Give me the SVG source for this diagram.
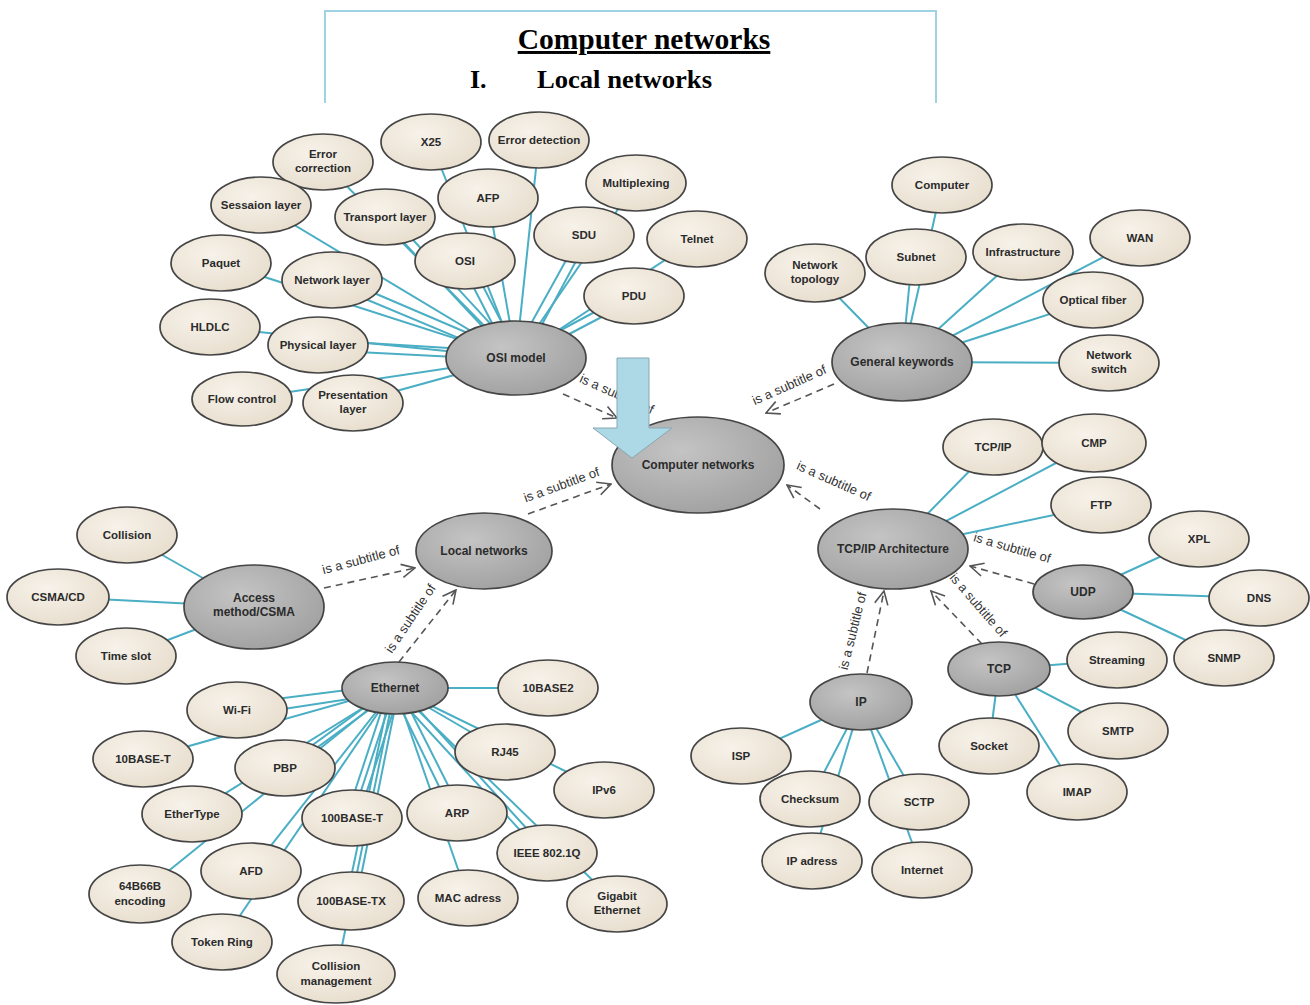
<svg xmlns="http://www.w3.org/2000/svg" width="1310" height="1005" viewBox="0 0 1310 1005">
<style>
.leaf ellipse{fill:url(#gl);stroke:#454545;stroke-width:1.7}
.hub ellipse{fill:url(#gh);stroke:#454545;stroke-width:1.7}
text.n{font-family:"Liberation Sans",Arial,sans-serif;font-weight:bold;font-size:11.5px;fill:#2b2b2b;text-anchor:middle}
text.h{font-family:"Liberation Sans",Arial,sans-serif;font-weight:bold;font-size:12px;fill:#2b2b2b;text-anchor:middle}
.ln line{stroke:#4aaec4;stroke-width:2}
.dash line{stroke:#555;stroke-width:1.6;stroke-dasharray:7,5;marker-end:url(#oa)}
text.lb{font-family:"Liberation Sans",Arial,sans-serif;font-size:13px;fill:#333;text-anchor:middle}
.title{font-family:"Liberation Serif","Times New Roman",serif;font-weight:bold;fill:#000}
</style>
<defs>
<radialGradient id="gl" cx="0.4" cy="0.35" r="0.75"><stop offset="0" stop-color="#f7f2ea"/><stop offset="1" stop-color="#e6dccb"/></radialGradient>
<radialGradient id="gh" cx="0.4" cy="0.35" r="0.75"><stop offset="0" stop-color="#c4c4c4"/><stop offset="1" stop-color="#9e9e9e"/></radialGradient>
<marker id="oa" viewBox="0 0 12 12" refX="11" refY="6" markerWidth="16" markerHeight="16" markerUnits="userSpaceOnUse" orient="auto"><path d="M1,1 L11,6 L1,11" fill="none" stroke="#555" stroke-width="1.2"/></marker>
</defs>
<rect width="1310" height="1005" fill="#fff"/>
<!-- title frame -->
<g id="title">
<path d="M325,103 V11 H936 V103" fill="none" stroke="#9fd3e3" stroke-width="2"/>
<text class="title" x="644" y="49" font-size="29.5" text-anchor="middle" text-decoration="underline">Computer networks</text>
<text class="title" x="470" y="88" font-size="26">I.</text>
<text class="title" x="537" y="88" font-size="26" textLength="175" lengthAdjust="spacingAndGlyphs">Local networks</text>
</g>
<!-- connectors -->
<g id="connectors">
<g class="ln">
<!-- OSI model -->
<line x1="516" y1="358" x2="323" y2="162"/>
<line x1="516" y1="358" x2="431" y2="142"/>
<line x1="516" y1="358" x2="539" y2="140"/>
<line x1="516" y1="358" x2="636" y2="183"/>
<line x1="516" y1="358" x2="261" y2="205"/>
<line x1="510" y1="356" x2="380" y2="217"/>
<line x1="520" y1="356" x2="392" y2="217"/>
<line x1="516" y1="358" x2="488" y2="198"/>
<line x1="512" y1="358" x2="580" y2="235"/>
<line x1="524" y1="358" x2="590" y2="235"/>
<line x1="516" y1="358" x2="697" y2="239"/>
<line x1="516" y1="358" x2="221" y2="263"/>
<line x1="512" y1="352" x2="332" y2="275"/>
<line x1="516" y1="362" x2="332" y2="285"/>
<line x1="510" y1="358" x2="460" y2="261"/>
<line x1="520" y1="358" x2="470" y2="261"/>
<line x1="516" y1="354" x2="634" y2="291"/>
<line x1="516" y1="362" x2="634" y2="300"/>
<line x1="516" y1="358" x2="210" y2="327"/>
<line x1="516" y1="352" x2="318" y2="340"/>
<line x1="516" y1="360" x2="318" y2="350"/>
<line x1="516" y1="358" x2="242" y2="399"/>
<line x1="516" y1="358" x2="353" y2="403"/>
<!-- General keywords -->
<line x1="902" y1="362" x2="815" y2="273"/>
<line x1="902" y1="362" x2="942" y2="185"/>
<line x1="902" y1="362" x2="912" y2="257"/>
<line x1="902" y1="362" x2="1023" y2="252"/>
<line x1="902" y1="362" x2="1140" y2="238"/>
<line x1="902" y1="362" x2="1093" y2="300"/>
<line x1="902" y1="362" x2="1109" y2="363"/>
<!-- TCP/IP Architecture -->
<line x1="893" y1="549" x2="993" y2="447"/>
<line x1="893" y1="549" x2="1094" y2="443"/>
<line x1="893" y1="549" x2="1101" y2="505"/>
<!-- UDP -->
<line x1="1083" y1="592" x2="1199" y2="539"/>
<line x1="1083" y1="592" x2="1260" y2="598"/>
<line x1="1083" y1="592" x2="1224" y2="658"/>
<!-- TCP -->
<line x1="999" y1="669" x2="1117" y2="660"/>
<line x1="999" y1="669" x2="1118" y2="731"/>
<line x1="999" y1="669" x2="1077" y2="792"/>
<line x1="999" y1="669" x2="989" y2="746"/>
<!-- IP -->
<line x1="861" y1="702" x2="741" y2="756"/>
<line x1="861" y1="702" x2="810" y2="799"/>
<line x1="861" y1="702" x2="812" y2="861"/>
<line x1="861" y1="702" x2="919" y2="802"/>
<line x1="861" y1="702" x2="922" y2="870"/>
<!-- Access method -->
<line x1="254" y1="607" x2="127" y2="535"/>
<line x1="254" y1="607" x2="58" y2="597"/>
<line x1="254" y1="607" x2="126" y2="656"/>
<!-- Ethernet -->
<line x1="395" y1="688" x2="548" y2="688"/>
<line x1="395" y1="684" x2="237" y2="704"/>
<line x1="395" y1="692" x2="237" y2="716"/>
<line x1="395" y1="688" x2="143" y2="759"/>
<line x1="391" y1="688" x2="281" y2="768"/>
<line x1="399" y1="688" x2="289" y2="768"/>
<line x1="395" y1="688" x2="192" y2="814"/>
<line x1="395" y1="688" x2="140" y2="894"/>
<line x1="395" y1="688" x2="251" y2="871"/>
<line x1="395" y1="688" x2="222" y2="942"/>
<line x1="389" y1="688" x2="346" y2="818"/>
<line x1="395" y1="688" x2="352" y2="818"/>
<line x1="401" y1="688" x2="358" y2="818"/>
<line x1="391" y1="688" x2="346" y2="901"/>
<line x1="399" y1="688" x2="356" y2="901"/>
<line x1="395" y1="688" x2="336" y2="975"/>
<line x1="391" y1="688" x2="452" y2="813"/>
<line x1="399" y1="688" x2="462" y2="813"/>
<line x1="395" y1="688" x2="468" y2="898"/>
<line x1="395" y1="688" x2="505" y2="752"/>
<line x1="395" y1="688" x2="604" y2="790"/>
<line x1="391" y1="690" x2="541" y2="853"/>
<line x1="399" y1="688" x2="549" y2="853"/>
<line x1="395" y1="688" x2="617" y2="904"/>
</g>
<g class="dash">
<line x1="563" y1="394" x2="617" y2="418"/>
<line x1="834" y1="384" x2="766" y2="413"/>
<line x1="528" y1="514" x2="611" y2="484"/>
<line x1="820" y1="509" x2="787" y2="485"/>
<line x1="324" y1="588" x2="415" y2="568"/>
<line x1="399" y1="662" x2="456" y2="590"/>
<line x1="1034" y1="584" x2="970" y2="566"/>
<line x1="982" y1="644" x2="931" y2="591"/>
<line x1="867" y1="673" x2="884" y2="591"/>
</g>
<g id="labels">
<text class="lb" transform="translate(615,398) rotate(24)">is a subtitle of</text>
<text class="lb" transform="translate(791,389) rotate(-24)">is a subtitle of</text>
<text class="lb" transform="translate(563,489) rotate(-20)">is a subtitle of</text>
<text class="lb" transform="translate(832,485) rotate(24)">is a subtitle of</text>
<text class="lb" transform="translate(362,564) rotate(-15)">is a subtitle of</text>
<text class="lb" transform="translate(414,621) rotate(-56)">is a subtitle of</text>
<text class="lb" transform="translate(1011,552) rotate(16)">is a subtitle of</text>
<text class="lb" transform="translate(975,608) rotate(49)">is a subtitle of</text>
<text class="lb" transform="translate(857,632) rotate(-76)">is a subtitle of</text>
</g>
</g>
<!-- hubs -->
<g id="n-computer-networks" class="hub"><ellipse cx="698" cy="465" rx="86" ry="48"/><text class="h" x="698" y="469">Computer networks</text></g>
<g id="n-osi-model" class="hub"><ellipse cx="516" cy="358" rx="70" ry="37"/><text class="h" x="516" y="362">OSI model</text></g>
<g id="n-general-keywords" class="hub"><ellipse cx="902" cy="362" rx="70" ry="39"/><text class="h" x="902" y="366">General keywords</text></g>
<g id="n-local-networks" class="hub"><ellipse cx="484" cy="551" rx="68" ry="38"/><text class="h" x="484" y="555">Local networks</text></g>
<g id="n-access-method" class="hub"><ellipse cx="254" cy="607" rx="70" ry="42"/><text class="h" x="254" y="602">Access</text><text class="h" x="254" y="616">method/CSMA</text></g>
<g id="n-ethernet" class="hub"><ellipse cx="395" cy="688" rx="53" ry="26"/><text class="h" x="395" y="692">Ethernet</text></g>
<g id="n-tcpip-arch" class="hub"><ellipse cx="893" cy="549" rx="75" ry="40"/><text class="h" x="893" y="553">TCP/IP Architecture</text></g>
<g id="n-udp" class="hub"><ellipse cx="1083" cy="592" rx="50" ry="27"/><text class="h" x="1083" y="596">UDP</text></g>
<g id="n-tcp" class="hub"><ellipse cx="999" cy="669" rx="51" ry="27"/><text class="h" x="999" y="673">TCP</text></g>
<g id="n-ip" class="hub"><ellipse cx="861" cy="702" rx="51" ry="28"/><text class="h" x="861" y="706">IP</text></g>
<!-- OSI leaves -->
<g id="n-error-correction" class="leaf"><ellipse cx="323" cy="162" rx="50" ry="28"/><text class="n" x="323" y="158">Error</text><text class="n" x="323" y="172">correction</text></g>
<g id="n-x25" class="leaf"><ellipse cx="431" cy="142" rx="50" ry="28"/><text class="n" x="431" y="146">X25</text></g>
<g id="n-error-detection" class="leaf"><ellipse cx="539" cy="140" rx="50" ry="28"/><text class="n" x="539" y="144">Error detection</text></g>
<g id="n-multiplexing" class="leaf"><ellipse cx="636" cy="183" rx="50" ry="28"/><text class="n" x="636" y="187">Multiplexing</text></g>
<g id="n-sessaion" class="leaf"><ellipse cx="261" cy="205" rx="50" ry="28"/><text class="n" x="261" y="209">Sessaion layer</text></g>
<g id="n-transport" class="leaf"><ellipse cx="385" cy="217" rx="50" ry="28"/><text class="n" x="385" y="221">Transport layer</text></g>
<g id="n-afp" class="leaf"><ellipse cx="488" cy="198" rx="50" ry="29"/><text class="n" x="488" y="202">AFP</text></g>
<g id="n-sdu" class="leaf"><ellipse cx="584" cy="235" rx="50" ry="28"/><text class="n" x="584" y="239">SDU</text></g>
<g id="n-telnet" class="leaf"><ellipse cx="697" cy="239" rx="50" ry="28"/><text class="n" x="697" y="243">Telnet</text></g>
<g id="n-paquet" class="leaf"><ellipse cx="221" cy="263" rx="50" ry="28"/><text class="n" x="221" y="267">Paquet</text></g>
<g id="n-network-layer" class="leaf"><ellipse cx="332" cy="280" rx="50" ry="28"/><text class="n" x="332" y="284">Network layer</text></g>
<g id="n-osi" class="leaf"><ellipse cx="465" cy="261" rx="50" ry="28"/><text class="n" x="465" y="265">OSI</text></g>
<g id="n-pdu" class="leaf"><ellipse cx="634" cy="296" rx="50" ry="28"/><text class="n" x="634" y="300">PDU</text></g>
<g id="n-hldlc" class="leaf"><ellipse cx="210" cy="327" rx="50" ry="28"/><text class="n" x="210" y="331">HLDLC</text></g>
<g id="n-physical" class="leaf"><ellipse cx="318" cy="345" rx="50" ry="28"/><text class="n" x="318" y="349">Physical layer</text></g>
<g id="n-flow-control" class="leaf"><ellipse cx="242" cy="399" rx="50" ry="27"/><text class="n" x="242" y="403">Flow control</text></g>
<g id="n-presentation" class="leaf"><ellipse cx="353" cy="403" rx="50" ry="28"/><text class="n" x="353" y="399">Presentation</text><text class="n" x="353" y="413">layer</text></g>
<!-- General keyword leaves -->
<g id="n-computer" class="leaf"><ellipse cx="942" cy="185" rx="50" ry="28"/><text class="n" x="942" y="189">Computer</text></g>
<g id="n-network-topology" class="leaf"><ellipse cx="815" cy="273" rx="50" ry="29"/><text class="n" x="815" y="269">Network</text><text class="n" x="815" y="283">topology</text></g>
<g id="n-subnet" class="leaf"><ellipse cx="916" cy="257" rx="50" ry="28"/><text class="n" x="916" y="261">Subnet</text></g>
<g id="n-infrastructure" class="leaf"><ellipse cx="1023" cy="252" rx="50" ry="28"/><text class="n" x="1023" y="256">Infrastructure</text></g>
<g id="n-wan" class="leaf"><ellipse cx="1140" cy="238" rx="50" ry="28"/><text class="n" x="1140" y="242">WAN</text></g>
<g id="n-optical-fiber" class="leaf"><ellipse cx="1093" cy="300" rx="50" ry="28"/><text class="n" x="1093" y="304">Optical fiber</text></g>
<g id="n-network-switch" class="leaf"><ellipse cx="1109" cy="363" rx="50" ry="28"/><text class="n" x="1109" y="359">Network</text><text class="n" x="1109" y="373">switch</text></g>
<!-- TCP/IP leaves -->
<g id="n-tcpip" class="leaf"><ellipse cx="993" cy="447" rx="50" ry="28"/><text class="n" x="993" y="451">TCP/IP</text></g>
<g id="n-cmp" class="leaf"><ellipse cx="1094" cy="443" rx="52" ry="29"/><text class="n" x="1094" y="447">CMP</text></g>
<g id="n-ftp" class="leaf"><ellipse cx="1101" cy="505" rx="50" ry="28"/><text class="n" x="1101" y="509">FTP</text></g>
<g id="n-xpl" class="leaf"><ellipse cx="1199" cy="539" rx="50" ry="28"/><text class="n" x="1199" y="543">XPL</text></g>
<g id="n-dns" class="leaf"><ellipse cx="1259" cy="598" rx="50" ry="28"/><text class="n" x="1259" y="602">DNS</text></g>
<g id="n-snmp" class="leaf"><ellipse cx="1224" cy="658" rx="50" ry="28"/><text class="n" x="1224" y="662">SNMP</text></g>
<g id="n-streaming" class="leaf"><ellipse cx="1117" cy="660" rx="50" ry="28"/><text class="n" x="1117" y="664">Streaming</text></g>
<g id="n-smtp" class="leaf"><ellipse cx="1118" cy="731" rx="50" ry="28"/><text class="n" x="1118" y="735">SMTP</text></g>
<g id="n-imap" class="leaf"><ellipse cx="1077" cy="792" rx="50" ry="28"/><text class="n" x="1077" y="796">IMAP</text></g>
<g id="n-socket" class="leaf"><ellipse cx="989" cy="746" rx="50" ry="28"/><text class="n" x="989" y="750">Socket</text></g>
<g id="n-isp" class="leaf"><ellipse cx="741" cy="756" rx="50" ry="28"/><text class="n" x="741" y="760">ISP</text></g>
<g id="n-checksum" class="leaf"><ellipse cx="810" cy="799" rx="50" ry="28"/><text class="n" x="810" y="803">Checksum</text></g>
<g id="n-sctp" class="leaf"><ellipse cx="919" cy="802" rx="50" ry="28"/><text class="n" x="919" y="806">SCTP</text></g>
<g id="n-ip-adress" class="leaf"><ellipse cx="812" cy="861" rx="50" ry="28"/><text class="n" x="812" y="865">IP adress</text></g>
<g id="n-internet" class="leaf"><ellipse cx="922" cy="870" rx="50" ry="28"/><text class="n" x="922" y="874">Internet</text></g>
<!-- Local network leaves -->
<g id="n-collision" class="leaf"><ellipse cx="127" cy="535" rx="50" ry="28"/><text class="n" x="127" y="539">Collision</text></g>
<g id="n-csmacd" class="leaf"><ellipse cx="58" cy="597" rx="51" ry="28"/><text class="n" x="58" y="601">CSMA/CD</text></g>
<g id="n-time-slot" class="leaf"><ellipse cx="126" cy="656" rx="50" ry="28"/><text class="n" x="126" y="660">Time slot</text></g>
<g id="n-10base2" class="leaf"><ellipse cx="548" cy="688" rx="50" ry="28"/><text class="n" x="548" y="692">10BASE2</text></g>
<g id="n-wifi" class="leaf"><ellipse cx="237" cy="710" rx="50" ry="28"/><text class="n" x="237" y="714">Wi-Fi</text></g>
<g id="n-10baset" class="leaf"><ellipse cx="143" cy="759" rx="50" ry="28"/><text class="n" x="143" y="763">10BASE-T</text></g>
<g id="n-pbp" class="leaf"><ellipse cx="285" cy="768" rx="50" ry="28"/><text class="n" x="285" y="772">PBP</text></g>
<g id="n-rj45" class="leaf"><ellipse cx="505" cy="752" rx="50" ry="28"/><text class="n" x="505" y="756">RJ45</text></g>
<g id="n-ipv6" class="leaf"><ellipse cx="604" cy="790" rx="50" ry="28"/><text class="n" x="604" y="794">IPv6</text></g>
<g id="n-ethertype" class="leaf"><ellipse cx="192" cy="814" rx="50" ry="28"/><text class="n" x="192" y="818">EtherType</text></g>
<g id="n-100baset" class="leaf"><ellipse cx="352" cy="818" rx="50" ry="28"/><text class="n" x="352" y="822">100BASE-T</text></g>
<g id="n-arp" class="leaf"><ellipse cx="457" cy="813" rx="50" ry="28"/><text class="n" x="457" y="817">ARP</text></g>
<g id="n-ieee" class="leaf"><ellipse cx="547" cy="853" rx="50" ry="28"/><text class="n" x="547" y="857">IEEE 802.1Q</text></g>
<g id="n-afd" class="leaf"><ellipse cx="251" cy="871" rx="50" ry="28"/><text class="n" x="251" y="875">AFD</text></g>
<g id="n-64b66b" class="leaf"><ellipse cx="140" cy="894" rx="51" ry="29"/><text class="n" x="140" y="890">64B66B</text><text class="n" x="140" y="905">encoding</text></g>
<g id="n-100basetx" class="leaf"><ellipse cx="351" cy="901" rx="53" ry="29"/><text class="n" x="351" y="905">100BASE-TX</text></g>
<g id="n-mac" class="leaf"><ellipse cx="468" cy="898" rx="50" ry="28"/><text class="n" x="468" y="902">MAC adress</text></g>
<g id="n-gigabit" class="leaf"><ellipse cx="617" cy="904" rx="50" ry="28"/><text class="n" x="617" y="900">Gigabit</text><text class="n" x="617" y="914">Ethernet</text></g>
<g id="n-token-ring" class="leaf"><ellipse cx="222" cy="942" rx="50" ry="28"/><text class="n" x="222" y="946">Token Ring</text></g>
<g id="n-collision-mgmt" class="leaf"><ellipse cx="336" cy="974" rx="59" ry="29"/><text class="n" x="336" y="970">Collision</text><text class="n" x="336" y="985">management</text></g>
<!-- big arrow -->
<g id="big-arrow"><path d="M617,358 H649 V428 H672 L632,458 L593,428 H617 Z" fill="#add8e6" stroke="#8aa7b5" stroke-width="1"/></g>
</svg>
